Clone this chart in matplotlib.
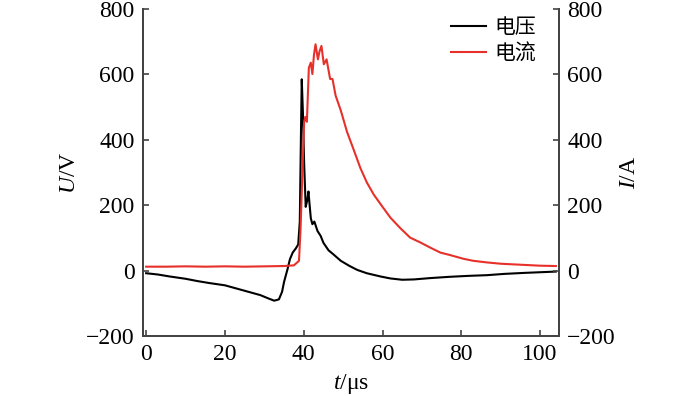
import matplotlib.pyplot as plt

# voltage (black), t in us, U in V
t_u = [0, 3, 6, 10, 13, 16, 20, 23, 26, 29, 31, 32.5, 33.7, 34.5, 35, 35.9, 36.5,
       37.2, 38, 38.6, 39.0, 39.3, 39.5, 39.8, 40.1, 40.5, 40.9, 41.2, 41.5, 41.8,
       42.2, 42.7, 43.5, 44.3, 45, 46.3, 47.5, 49.4, 51.5, 53.6, 56, 59.5, 62, 65,
       68, 72, 77, 82, 86.5, 91, 96, 100, 104]
u = [-8, -12, -18, -25, -32, -38, -45, -55, -65, -75, -85, -92, -88, -65, -35, 5, 35,
     55, 68, 80, 150, 420, 585, 480, 330, 195, 215, 242, 200, 160,
     142, 150, 121, 106, 85, 62, 50, 30, 15, 2, -8, -18, -24, -28,
     -27, -23, -19, -16, -14, -10, -7, -5, -3]

# current (red), I in A
t_i = [0, 5, 10, 15, 20, 25, 30, 35, 37.5, 38.8, 39.2, 39.7, 40.1, 40.4, 40.8, 41.3,
       41.8, 42.2, 42.6, 43.0, 43.6, 44.0, 44.5, 45.1, 45.8, 46.7, 47.3, 48.1, 49.4,
       51, 52.7, 54.4, 56, 57.8, 60, 62, 64.5, 67, 69.6, 72, 74.7, 77, 80.6, 83,
       86.5, 90, 95, 100, 104]
i = [12, 12, 13, 12, 13, 12, 13, 14, 16, 30, 130, 313, 455, 470, 455, 620,
     636, 601, 660, 692, 646, 670, 687, 631, 646, 586, 586, 535, 490,
     424, 369, 313, 270, 232, 195, 162, 130, 101, 86, 71, 55, 48, 36, 30,
     25, 21, 18, 15, 14]

plt.rcParams['font.family'] = ['Liberation Serif', 'DejaVu Serif']
plt.rcParams['font.size'] = 17
plt.rcParams['mathtext.fontset'] = 'custom'
plt.rcParams['mathtext.rm'] = 'Liberation Serif'
plt.rcParams['mathtext.it'] = 'Liberation Serif:italic'

fig = plt.figure(figsize=(7, 3.96), dpi=100)
ax = fig.add_axes([143 / 700, 60 / 396, (559 - 143) / 700, 327 / 396])
ax2 = ax.twinx()

l1, = ax.plot(t_u, u, color='black', lw=1.5, label='电压')
l2, = ax.plot(t_i, i, color='#e8302a', lw=1.5, label='电流')

for a in (ax, ax2):
    a.set_xlim(-0.8, 104.8)
    a.set_ylim(-200, 800)
    a.set_yticks([-200, 0, 200, 400, 600, 800])
    a.spines['top'].set_visible(False)
    for s in ('left', 'right', 'bottom'):
        a.spines[s].set_color('#444444')
        a.spines[s].set_linewidth(1.4)
    a.tick_params(direction='in', length=4, width=1.2, color='#444444', labelsize=17, pad=6)

ax.set_xticks([0, 20, 40, 60, 80, 100])
ax.set_xlabel(r'$t$/μs', fontsize=17, labelpad=5)
ax.set_ylabel('$U$/V', fontsize=17, labelpad=4)
ax2.set_ylabel('$I$/A', fontsize=17, labelpad=2)

leg = ax.legend(handles=[l1, l2], loc='upper right', frameon=False,
                bbox_to_anchor=(0.99, 1.035), handlelength=1.7, handletextpad=0.4,
                labelspacing=0.2, prop={'family': ['Noto Sans CJK SC'], 'size': 15})

fig.savefig('out.png', dpi=100)
